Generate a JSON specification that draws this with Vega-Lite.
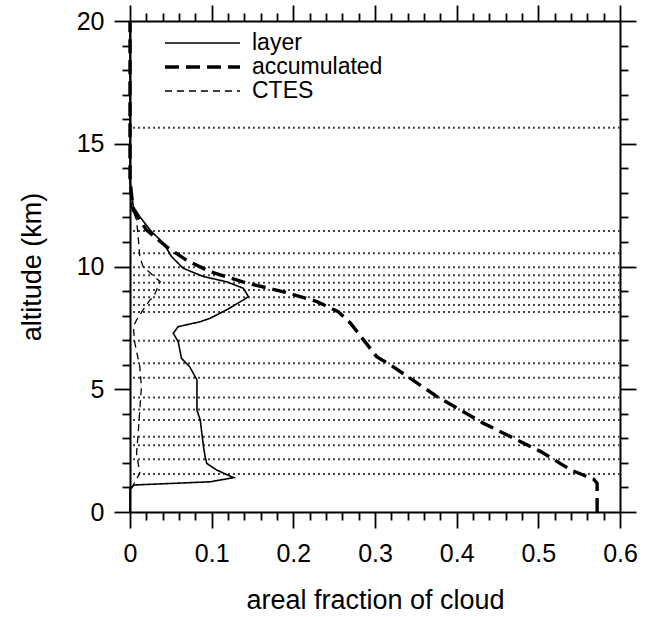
{
  "$schema": "https://vega.github.io/schema/vega-lite/v6.json",
  "width": 490,
  "height": 491,
  "autosize": {"type": "none"},
  "padding": {"left": 130, "top": 21, "right": 31, "bottom": 105},
  "background": "white",
  "config": {
    "view": {"stroke": null},
    "font": "Liberation Sans",
    "axis": {
      "domainColor": "black",
      "domainWidth": 2,
      "tickColor": "black",
      "tickWidth": 1.8,
      "grid": false,
      "labelFont": "Liberation Sans",
      "labelFontSize": 25,
      "labelColor": "black",
      "titleFont": "Liberation Sans",
      "titleFontSize": 27,
      "titleFontWeight": "normal",
      "titleColor": "black",
      "labelOverlap": false,
      "labelFlush": false
    },
    "legend": {"labelFont": "Liberation Sans"}
  },
  "datasets": {
    "levels": [
      {"level": 1.55}, {"level": 2.15}, {"level": 2.72}, {"level": 3.07}, {"level": 3.75},
      {"level": 4.18}, {"level": 4.66}, {"level": 5.47}, {"level": 6.06}, {"level": 6.98},
      {"level": 8.15}, {"level": 8.43}, {"level": 8.75}, {"level": 9.04}, {"level": 9.34},
      {"level": 9.64}, {"level": 9.97}, {"level": 10.54}, {"level": 11.45}, {"level": 15.65}
    ],
    "profiles": [
      {"s": "layer", "f": 0, "alt": 0},
      {"s": "layer", "f": 0, "alt": 0.95},
      {"s": "layer", "f": 0.005, "alt": 1.1},
      {"s": "layer", "f": 0.098, "alt": 1.23},
      {"s": "layer", "f": 0.127, "alt": 1.4},
      {"s": "layer", "f": 0.106, "alt": 1.71},
      {"s": "layer", "f": 0.094, "alt": 1.98},
      {"s": "layer", "f": 0.092, "alt": 2.25},
      {"s": "layer", "f": 0.09, "alt": 2.66},
      {"s": "layer", "f": 0.088, "alt": 3.2},
      {"s": "layer", "f": 0.086, "alt": 3.75},
      {"s": "layer", "f": 0.082, "alt": 4.15},
      {"s": "layer", "f": 0.082, "alt": 4.7},
      {"s": "layer", "f": 0.082, "alt": 5.38},
      {"s": "layer", "f": 0.073, "alt": 5.92},
      {"s": "layer", "f": 0.063, "alt": 6.26},
      {"s": "layer", "f": 0.061, "alt": 6.6},
      {"s": "layer", "f": 0.059, "alt": 6.94},
      {"s": "layer", "f": 0.053, "alt": 7.28},
      {"s": "layer", "f": 0.059, "alt": 7.55},
      {"s": "layer", "f": 0.086, "alt": 7.75},
      {"s": "layer", "f": 0.098, "alt": 7.89},
      {"s": "layer", "f": 0.118, "alt": 8.23},
      {"s": "layer", "f": 0.139, "alt": 8.64},
      {"s": "layer", "f": 0.145, "alt": 8.77},
      {"s": "layer", "f": 0.139, "alt": 9.11},
      {"s": "layer", "f": 0.118, "alt": 9.38},
      {"s": "layer", "f": 0.09, "alt": 9.59},
      {"s": "layer", "f": 0.065, "alt": 9.93},
      {"s": "layer", "f": 0.051, "alt": 10.4},
      {"s": "layer", "f": 0.041, "alt": 10.94},
      {"s": "layer", "f": 0.0245, "alt": 11.49},
      {"s": "layer", "f": 0.012, "alt": 12.03},
      {"s": "layer", "f": 0.004, "alt": 12.44},
      {"s": "layer", "f": 0.002, "alt": 12.98},
      {"s": "layer", "f": 0, "alt": 13.5},
      {"s": "layer", "f": 0, "alt": 20},
      {"s": "accumulated", "f": 0.572, "alt": 0},
      {"s": "accumulated", "f": 0.572, "alt": 1.17},
      {"s": "accumulated", "f": 0.568, "alt": 1.33},
      {"s": "accumulated", "f": 0.54, "alt": 1.71},
      {"s": "accumulated", "f": 0.503, "alt": 2.46},
      {"s": "accumulated", "f": 0.433, "alt": 3.61},
      {"s": "accumulated", "f": 0.376, "alt": 4.7},
      {"s": "accumulated", "f": 0.319, "alt": 5.99},
      {"s": "accumulated", "f": 0.302, "alt": 6.33},
      {"s": "accumulated", "f": 0.27, "alt": 7.69},
      {"s": "accumulated", "f": 0.255, "alt": 8.16},
      {"s": "accumulated", "f": 0.229, "alt": 8.57},
      {"s": "accumulated", "f": 0.188, "alt": 8.97},
      {"s": "accumulated", "f": 0.14, "alt": 9.35},
      {"s": "accumulated", "f": 0.098, "alt": 9.79},
      {"s": "accumulated", "f": 0.069, "alt": 10.26},
      {"s": "accumulated", "f": 0.045, "alt": 10.8},
      {"s": "accumulated", "f": 0.02, "alt": 11.49},
      {"s": "accumulated", "f": 0.004, "alt": 12.3},
      {"s": "accumulated", "f": 0, "alt": 13.5},
      {"s": "accumulated", "f": 0, "alt": 20},
      {"s": "CTES", "f": 0, "alt": 0},
      {"s": "CTES", "f": 0, "alt": 0.9},
      {"s": "CTES", "f": 0.002, "alt": 0.96},
      {"s": "CTES", "f": 0.006, "alt": 1.23},
      {"s": "CTES", "f": 0.012, "alt": 1.58},
      {"s": "CTES", "f": 0.008, "alt": 2.39},
      {"s": "CTES", "f": 0.01, "alt": 3.2},
      {"s": "CTES", "f": 0.012, "alt": 4.15},
      {"s": "CTES", "f": 0.014, "alt": 5.1},
      {"s": "CTES", "f": 0.012, "alt": 5.92},
      {"s": "CTES", "f": 0.006, "alt": 6.87},
      {"s": "CTES", "f": 0.004, "alt": 7.55},
      {"s": "CTES", "f": 0.008, "alt": 7.82},
      {"s": "CTES", "f": 0.016, "alt": 8.23},
      {"s": "CTES", "f": 0.0245, "alt": 8.64},
      {"s": "CTES", "f": 0.029, "alt": 8.77},
      {"s": "CTES", "f": 0.037, "alt": 9.38},
      {"s": "CTES", "f": 0.016, "alt": 9.99},
      {"s": "CTES", "f": 0.012, "alt": 10.4},
      {"s": "CTES", "f": 0.01, "alt": 11.21},
      {"s": "CTES", "f": 0.008, "alt": 11.9},
      {"s": "CTES", "f": 0.002, "alt": 12.44},
      {"s": "CTES", "f": 0, "alt": 13},
      {"s": "CTES", "f": 0, "alt": 20}
    ]
  },
  "layer": [
    {
      "data": {"name": "levels"},
      "mark": {"type": "rule", "color": "#444", "strokeWidth": 2, "strokeDash": [2, 3]},
      "encoding": {
        "y": {"field": "level", "type": "quantitative", "scale": {"domain": [0, 20], "nice": false}, "axis": null}
      }
    },
    {
      "data": {"name": "profiles"},
      "mark": {"type": "line", "color": "black", "strokeCap": "butt"},
      "encoding": {
        "x": {
          "field": "f", "type": "quantitative",
          "scale": {"domain": [0, 0.6], "nice": false, "zero": false},
          "axis": {
            "orient": "bottom",
            "title": "areal fraction of cloud",
            "values": [0,0.02,0.04,0.06,0.08,0.1,0.12,0.14,0.16,0.18,0.2,0.22,0.24,0.26,0.28,0.3,0.32,0.34,0.36,0.38,0.4,0.42,0.44,0.46,0.48,0.5,0.52,0.54,0.56,0.58,0.6],
            "tickSize": {"condition": {"test": "abs(datum.value*10 - round(datum.value*10)) < 0.000001", "value": 16}, "value": 8},
            "labelExpr": "abs(datum.value*10 - round(datum.value*10)) < 0.000001 ? format(datum.value, '.1~f') : ''",
            "labelPadding": 13,
            "titlePadding": 21
          }
        },
        "y": {
          "field": "alt", "type": "quantitative",
          "scale": {"domain": [0, 20], "nice": false},
          "axis": {
            "orient": "left",
            "title": "altitude (km)",
            "values": [0,1,2,3,4,5,6,7,8,9,10,11,12,13,14,15,16,17,18,19,20],
            "tickSize": {"condition": {"test": "datum.value % 5 === 0", "value": 16}, "value": 8},
            "labelExpr": "datum.value % 5 === 0 ? datum.label : ''",
            "labelPadding": 10,
            "titlePadding": 30
          }
        },
        "order": {"field": "alt", "type": "quantitative"},
        "strokeDash": {
          "field": "s", "type": "nominal",
          "scale": {"domain": ["layer", "accumulated", "CTES"], "range": [[1, 0], [14, 7], [7, 5]]},
          "legend": {
            "title": null,
            "orient": "none",
            "legendX": 61,
            "legendY": 10.5,
            "padding": 0,
            "symbolType": "M-4,0H4",
            "symbolSize": 352,
            "symbolStrokeColor": "black",
            "labelFontSize": 23,
            "labelColor": "black",
            "labelOffset": 38,
            "rowPadding": 0
          }
        },
        "strokeWidth": {
          "field": "s", "type": "nominal",
          "scale": {"type": "ordinal", "domain": ["layer", "accumulated", "CTES"], "range": [1.6, 3.4, 1.3]},
          "legend": {
            "title": null,
            "orient": "none",
            "legendX": 61,
            "legendY": 10.5,
            "padding": 0,
            "symbolType": "M-4,0H4",
            "symbolSize": 352,
            "symbolStrokeColor": "black",
            "labelFontSize": 23,
            "labelColor": "black",
            "labelOffset": 38,
            "rowPadding": 0
          }
        }
      }
    },
    {
      "data": {"name": "profiles"},
      "mark": {"type": "line", "opacity": 0},
      "encoding": {
        "x": {
          "field": "f", "type": "quantitative",
          "axis": {
            "orient": "top",
            "title": null,
            "labels": false,
            "values": [0,0.02,0.04,0.06,0.08,0.1,0.12,0.14,0.16,0.18,0.2,0.22,0.24,0.26,0.28,0.3,0.32,0.34,0.36,0.38,0.4,0.42,0.44,0.46,0.48,0.5,0.52,0.54,0.56,0.58,0.6],
            "tickSize": {"condition": {"test": "abs(datum.value*10 - round(datum.value*10)) < 0.000001", "value": 16}, "value": 8}
          }
        },
        "y": {
          "field": "alt", "type": "quantitative",
          "axis": {
            "orient": "right",
            "title": null,
            "labels": false,
            "values": [0,1,2,3,4,5,6,7,8,9,10,11,12,13,14,15,16,17,18,19,20],
            "tickSize": {"condition": {"test": "datum.value % 5 === 0", "value": 16}, "value": 8}
          }
        },
        "detail": {"field": "s", "type": "nominal"},
        "order": {"field": "alt", "type": "quantitative"}
      }
    }
  ],
  "resolve": {"axis": {"x": "independent", "y": "independent"}}
}
